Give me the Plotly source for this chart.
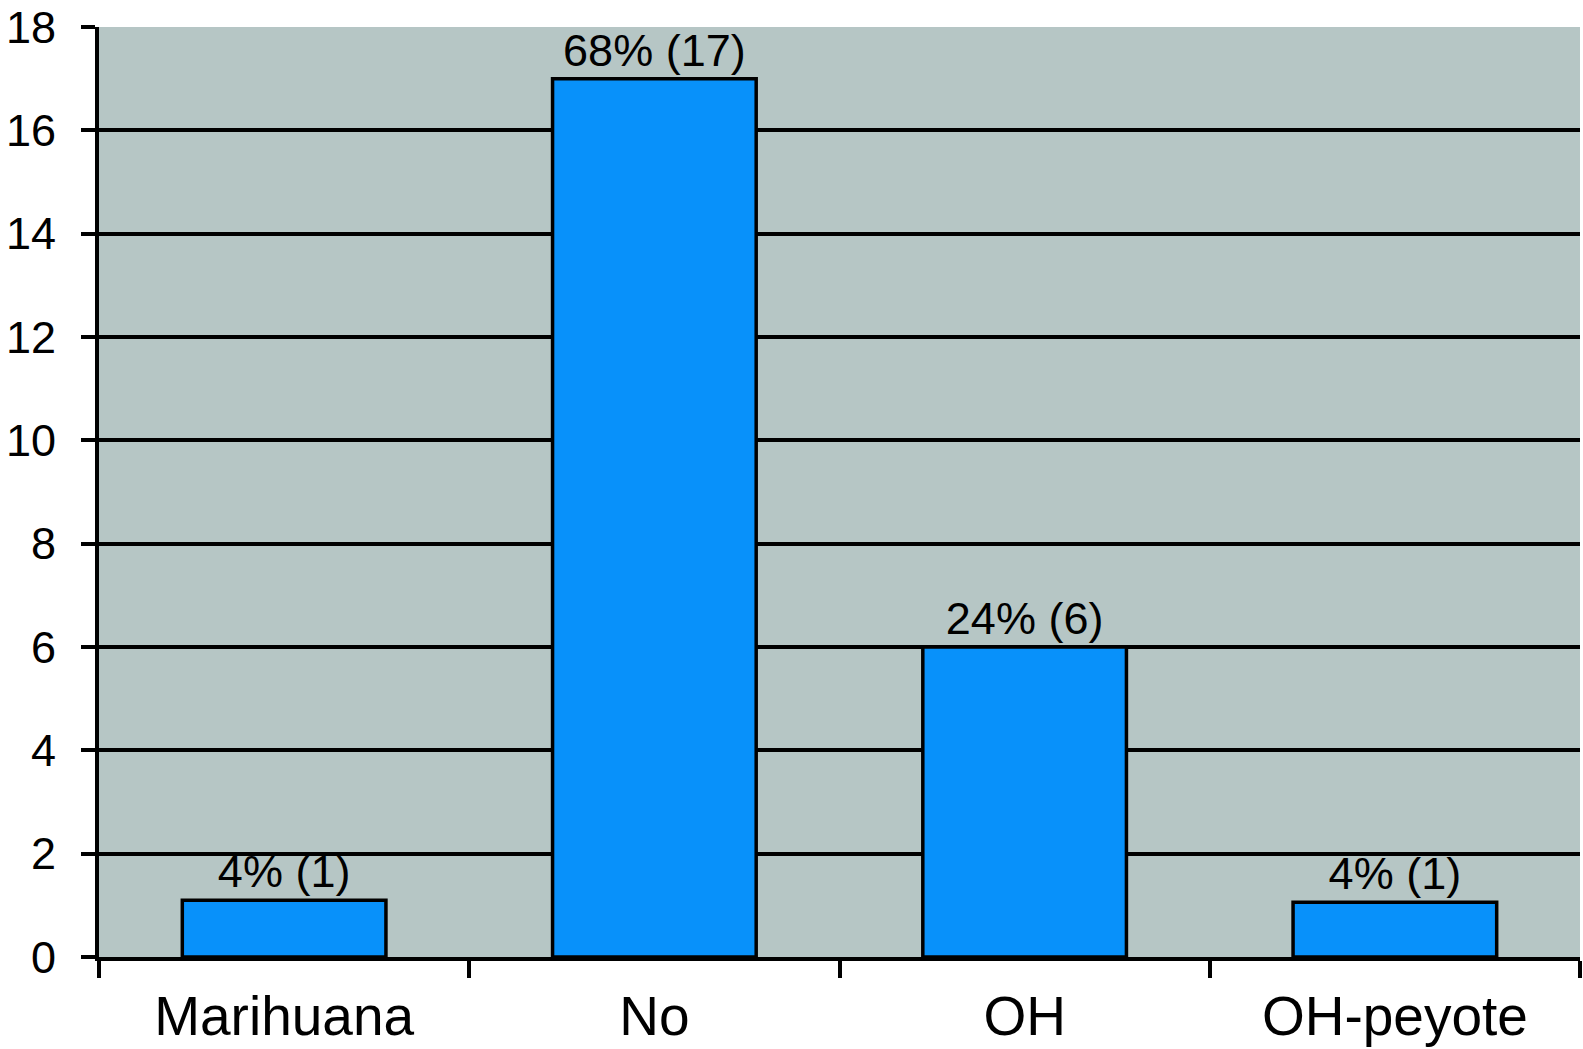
import plotly.graph_objects as go

categories = ["Marihuana", "No", "OH", "OH-peyote"]
counts = [1.1, 17, 6, 1.06]
bar_labels = ["4% (1)", "68% (17)", "24% (6)", "4% (1)"]
y_ticks = [0, 2, 4, 6, 8, 10, 12, 14, 16, 18]

FONT = "Liberation Sans, Arial, Helvetica, sans-serif"

fig = go.Figure(
    go.Bar(
        x=categories,
        y=counts,
        text=bar_labels,
        textposition="outside",
        textfont=dict(family=FONT, size=45, color="black"),
        cliponaxis=False,
        marker=dict(color="#0891FA", line=dict(color="black", width=3.5)),
        width=0.55,
        hoverinfo="skip",
    )
)

fig.update_layout(
    width=1583,
    height=1049,
    margin=dict(l=99, r=3, t=27, b=92, autoexpand=False),
    paper_bgcolor="white",
    plot_bgcolor="#B6C6C5",
    showlegend=False,
    font=dict(family=FONT, color="black"),
)

fig.update_yaxes(
    range=[0, 18],
    tickvals=y_ticks,
    ticktext=[str(v) for v in y_ticks],
    showgrid=True,
    gridcolor="black",
    gridwidth=4,
    zeroline=False,
    showline=True,
    linecolor="black",
    linewidth=4,
    ticks="outside",
    ticklen=14,
    tickwidth=4,
    tickcolor="black",
    tickfont=dict(family=FONT, size=45, color="black"),
    ticklabelstandoff=16,
    automargin=False,
)

fig.update_xaxes(
    type="category",
    tickson="boundaries",
    ticks="outside",
    ticklen=17,
    tickwidth=4,
    tickcolor="black",
    showline=True,
    linecolor="black",
    linewidth=4,
    showgrid=False,
    tickfont=dict(family=FONT, size=55, color="black"),
    ticklabelstandoff=8,
    automargin=False,
)

fig.write_html(
    "out.html",
    config={"displayModeBar": False},
    post_script="document.body.style.margin='0';document.body.style.overflow='hidden';",
)
